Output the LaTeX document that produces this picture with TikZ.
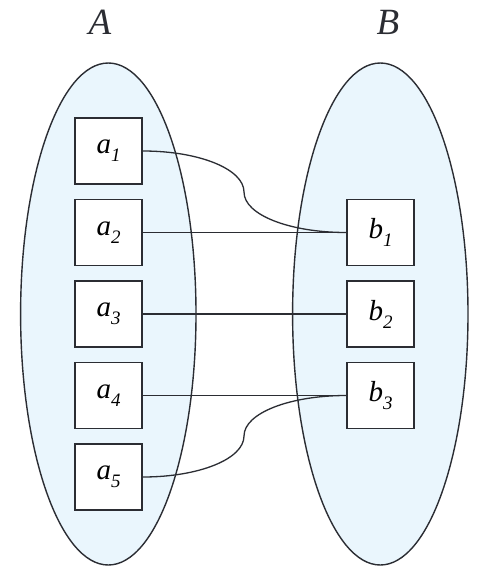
\documentclass[tikz,border=0pt]{standalone}
\usepackage{fontspec}
\setmainfont{Liberation Serif}
\usetikzlibrary{shapes.geometric}
\definecolor{inkc}{HTML}{2B2D33}
\definecolor{setfill}{HTML}{EAF6FD}
\newcommand{\elemlab}[2]{\fontsize{29}{29}\selectfont\itshape #1\raisebox{-8pt}{\fontsize{19}{19}\selectfont #2}}
\tikzset{
  setshape/.style={draw=inkc, fill=setfill, ellipse, line width=1.4pt, inner sep=0pt, minimum width=175.4pt, minimum height=502pt},
  elembox/.style={draw=inkc, fill=white, line width=1.9pt, minimum width=67pt, minimum height=66pt, inner sep=0pt},
  conn/.style={draw=inkc, line width=1.3pt},
  settitle/.style={font=\fontsize{37}{37}\selectfont\itshape, text=inkc}
}
\begin{document}
\begin{tikzpicture}[x=1pt,y=-1pt]
\useasboundingbox (0,0) rectangle (488,576);
\fill[white] (0,0) rectangle (488,576);
\node[settitle] (tA) at (100,22) {A};
\node[settitle] (tB) at (388,22) {B};
\node[setshape] (A) at (108.3,314) {};
\node[setshape] (B) at (380.3,314) {};
\coordinate (m1) at (244,192);
\coordinate (m2) at (244,436);
\node[elembox] (a1) at (108.5,151) {};
\node[elembox] (a2) at (108.5,232.5) {};
\node[elembox] (a3) at (108.5,314) {};
\node[elembox] (a4) at (108.5,395.5) {};
\node[elembox] (a5) at (108.5,477) {};
\node[elembox] (b1) at (380.5,232.5) {};
\node[elembox] (b2) at (380.5,314) {};
\node[elembox] (b3) at (380.5,395.5) {};
\draw[conn] (a1.east) .. controls +(56,0) and +(0,-23) .. (m1) .. controls +(0,23) and +(-56,0) .. (b1.west);
\draw[conn] (a2.east) -- (b1.west);
\draw[conn] (a3.east) -- (b2.west);
\draw[conn] (a4.east) -- (b3.west);
\draw[conn] (a5.east) .. controls +(56,0) and +(0,23) .. (m2) .. controls +(0,-23) and +(-56,0) .. (b3.west);
\node[elembox] at (a1) {\elemlab{a}{1}};
\node[elembox] at (a2) {\elemlab{a}{2}};
\node[elembox] at (a3) {\elemlab{a}{3}};
\node[elembox] at (a4) {\elemlab{a}{4}};
\node[elembox] at (a5) {\elemlab{a}{5}};
\node[elembox] at (b1) {\elemlab{b}{1}};
\node[elembox] at (b2) {\elemlab{b}{2}};
\node[elembox] at (b3) {\elemlab{b}{3}};
\end{tikzpicture}
\end{document}
